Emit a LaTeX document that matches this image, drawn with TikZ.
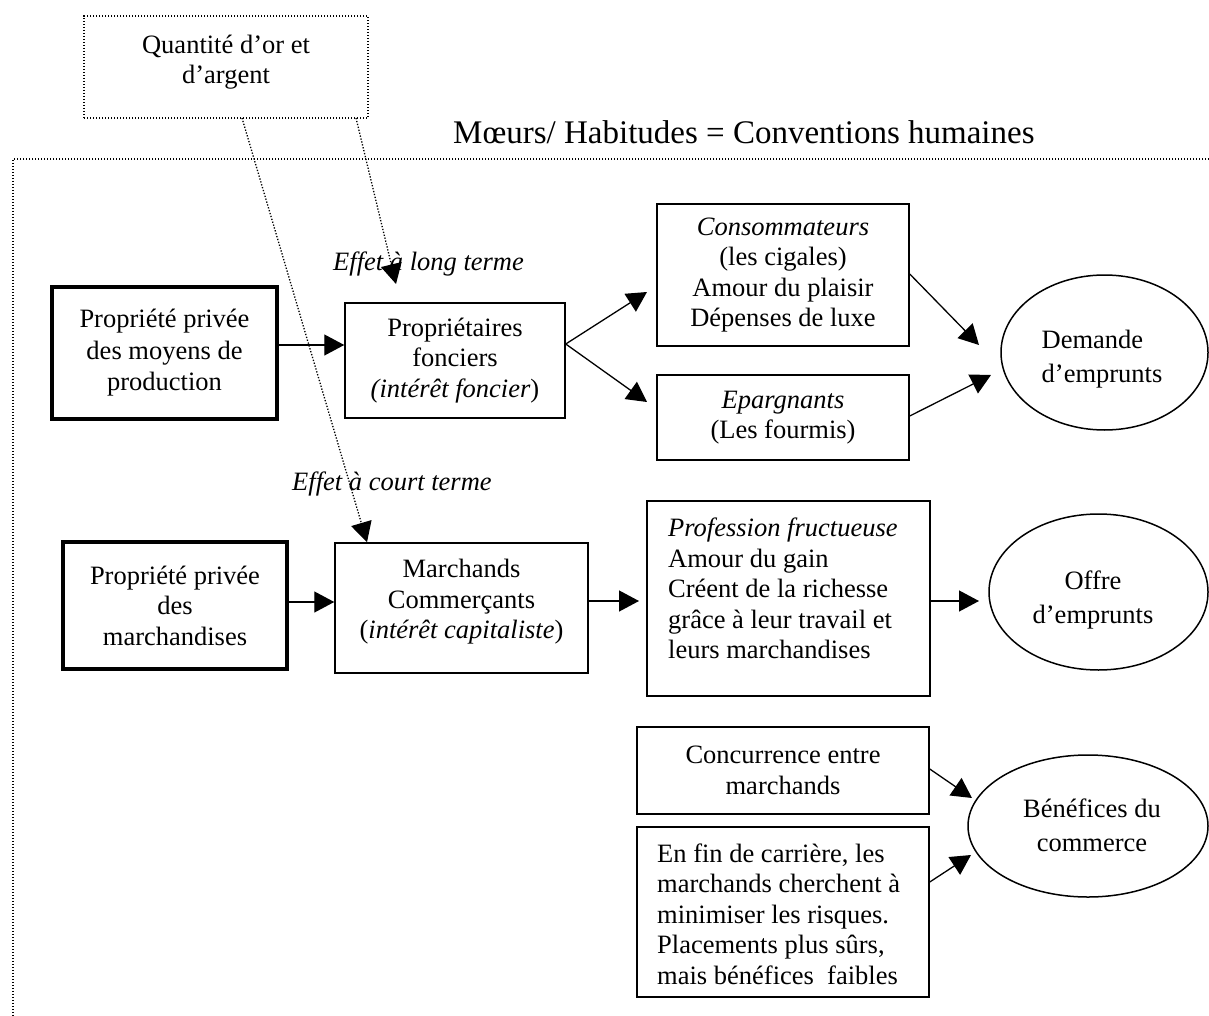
\documentclass[tikz,border=0pt]{standalone}
\usepackage{fontspec}
\setmainfont{Liberation Serif}
\usetikzlibrary{arrows.meta,shapes.geometric}
\newcommand{\fsz}{\fontsize{26.5}{30.5}\selectfont}
\newcommand{\fsov}{\fontsize{26.5}{34}\selectfont}
\newcommand{\fsttl}{\fontsize{33}{38}\selectfont}
\begin{document}
\begin{tikzpicture}[x=1pt,y=-1pt,
  box/.style={draw, line width=1.5pt, inner sep=0pt, font=\fsz, align=center},
  bigbox/.style={draw, line width=4.5pt, inner sep=0pt, font=\fsz, align=center},
  dotbox/.style={draw, line width=1.3pt, dash pattern=on 1.3pt off 1.7pt, inner sep=0pt},
  oval/.style={draw, ellipse, line width=1.5pt, inner sep=0pt},
  txt/.style={inner sep=0pt, font=\fsz},
  ovtxt/.style={inner sep=0pt, font=\fsov},
  arr/.style={line width=1.3pt, -{Triangle[length=20pt,width=21pt]}},
  dotarr/.style={line width=1.3pt, dash pattern=on 1.3pt off 1.7pt, -{Triangle[length=20pt,width=21pt]}},
  dotline/.style={line width=1.3pt, dash pattern=on 1.3pt off 1.7pt}]

\useasboundingbox (0,0) rectangle (1209,1016);

% outer frame and title
\draw[dotline] (1209,159) -- (13,159) -- (13,1016);
\node[inner sep=0pt, font=\fsttl, anchor=base west] (title) at (453,144) {Mœurs/ Habitudes = Conventions humaines};

% top dotted box
\node[dotbox, minimum width=284pt, minimum height=102pt] (quant) at (226,67) {};
\node[txt, align=center] (quanttxt) at (226,62) {Quantité d’or et\\d’argent};

% left column
\node[bigbox, minimum width=225pt, minimum height=132pt, font=\fontsize{26.5}{31.5}\selectfont] (box1) at (164.5,353) {Propriété privée\\des moyens de\\production};
\node[bigbox, minimum width=224pt, minimum height=127pt] (box2) at (175,605.5) {Propriété privée\\des\\marchandises};

% middle column
\node[box, minimum width=220pt, minimum height=115pt] (prop) at (455,360.5) {Propriétaires\\fonciers\\\textit{(intérêt foncier})};
\node[box, minimum width=253pt, minimum height=130pt] (march) at (461.5,608) {};
\node[txt, align=center] (marchtxt) at (461.5,602) {Marchands\\Commerçants\\(\textit{intérêt capitaliste})};

% labels of dotted arrows
\node[txt, anchor=west] (longlbl) at (333,264) {\textit{Effet à long terme}};
\node[txt, anchor=west] (courtlbl) at (292,484) {\textit{Effet à court terme}};

% right boxes
\node[box, minimum width=252pt, minimum height=142pt] (cons) at (783,275) {\textit{Consommateurs}\\(les cigales)\\Amour du plaisir\\Dépenses de luxe};
\node[box, minimum width=252pt, minimum height=85pt] (eparg) at (783,417.5) {\textit{Epargnants}\\(Les fourmis)};
\node[box, minimum width=283pt, minimum height=195pt] (prof) at (788.5,598.5) {};
\node[txt, align=left, anchor=west] (proftxt) at (668,588.5) {\textit{Profession fructueuse}\\Amour du gain\\Créent de la richesse\\grâce à leur travail et\\leurs marchandises};
\node[box, minimum width=292pt, minimum height=87pt] (conc) at (783,770.5) {Concurrence entre\\marchands};
\node[box, minimum width=292pt, minimum height=170pt] (enfin) at (783,912) {};
\node[txt, align=left, anchor=west] (enfintxt) at (657,914) {En fin de carrière, les\\marchands cherchent à\\minimiser les risques.\\Placements plus sûrs,\\mais bénéfices\ \ faibles};

% ellipses
\node[oval, minimum width=207pt, minimum height=155pt] (dem) at (1104.5,352.5) {};
\node[ovtxt, align=left, anchor=west] (demtxt) at (1041.5,359) {Demande\\d’emprunts};
\node[oval, minimum width=219pt, minimum height=156pt] (offre) at (1098.5,592) {};
\node[ovtxt, align=center] (offretxt) at (1093,600) {Offre\\d’emprunts};
\node[oval, minimum width=240pt, minimum height=142pt] (ben) at (1088,826) {};
\node[ovtxt, align=center] (bentxt) at (1092,825) {Bénéfices du\\commerce};

% free arrow ends
\coordinate (q1) at (242,118);
\coordinate (q2) at (356,118);
\coordinate (longtip) at (396,284);
\coordinate (consin) at (647,292);
\coordinate (epargin) at (647,402);
\coordinate (demin1) at (979,345);
\coordinate (demin2) at (991,375);
\coordinate (profin) at (639,601);
\coordinate (offrein) at (979,601);
\coordinate (benin1) at (972,798);
\coordinate (benin2) at (971,855);

% dotted arrows
\draw[dotarr] (q2) -- (longtip);
\draw[dotarr] (q1) -- (march.north -| 367,0);

% solid arrows
\draw[arr] (box1.east |- 0,345) -- (prop.west |- 0,345);
\draw[arr] (box2.east |- 0,602) -- (march.west |- 0,602);
\draw[arr] (prop.east |- 0,344) -- (consin);
\draw[arr] (prop.east |- 0,344) -- (epargin);
\draw[arr] (cons.east |- 0,274) -- (demin1);
\draw[arr] (eparg.east |- 0,416) -- (demin2);
\draw[arr] (march.east |- 0,601) -- (profin);
\draw[arr] (prof.east |- 0,601) -- (offrein);
\draw[arr] (conc.east |- 0,769) -- (benin1);
\draw[arr] (enfin.east |- 0,882) -- (benin2);
\end{tikzpicture}
\end{document}
